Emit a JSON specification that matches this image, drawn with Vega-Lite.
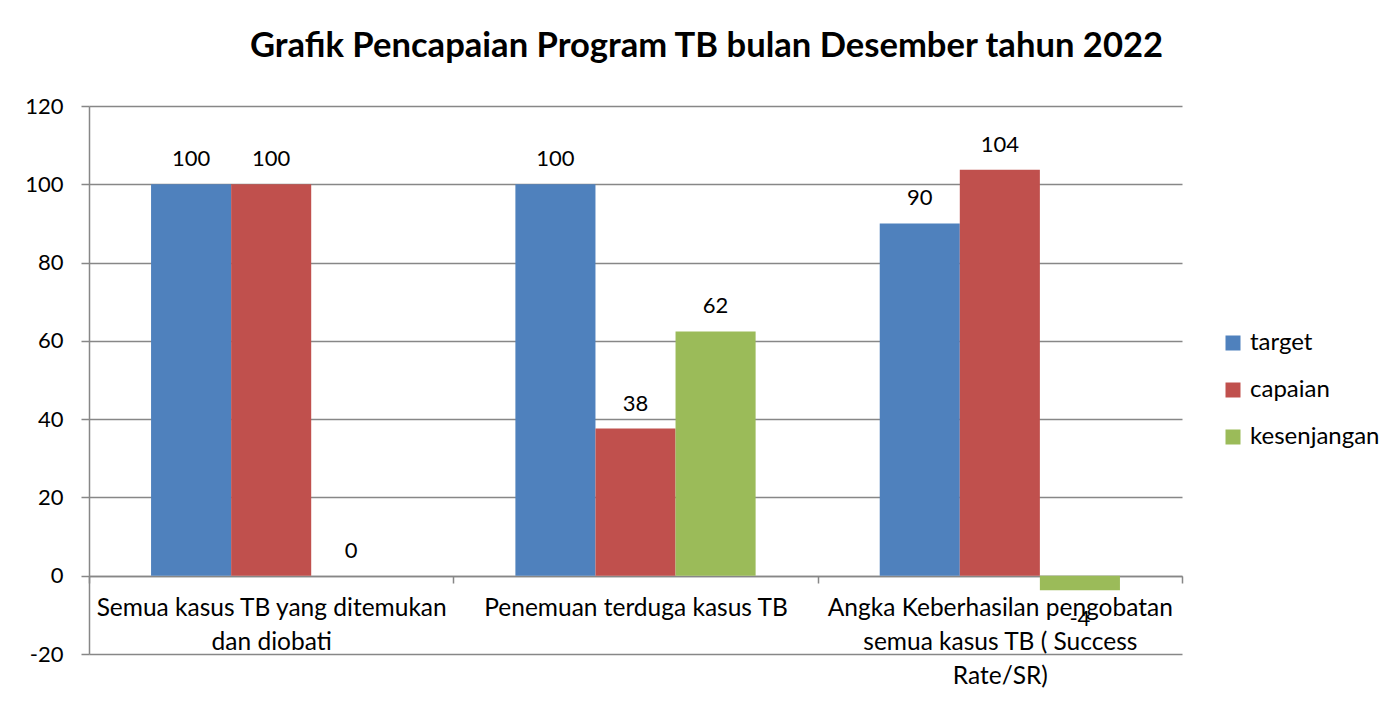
{
  "$schema": "https://vega.github.io/schema/vega-lite/v6.json",
  "autosize": "none",
  "width": 1093,
  "height": 548,
  "padding": {"left": 89, "top": 106, "right": 206, "bottom": 47},
  "background": "white",
  "title": {
    "text": "Grafik Pencapaian Program TB bulan Desember tahun 2022",
    "frame": "group",
    "anchor": "middle",
    "dx": 71,
    "offset": 3,
    "baseline": "alphabetic",
    "font": "Lato",
    "fontSize": 34.6,
    "fontWeight": "bold",
    "color": "black"
  },
  "data": {
    "values": [
      {"kategori": "Semua kasus TB yang ditemukan|dan diobati", "seri": "target", "nilai": 100},
      {"kategori": "Semua kasus TB yang ditemukan|dan diobati", "seri": "capaian", "nilai": 100},
      {"kategori": "Semua kasus TB yang ditemukan|dan diobati", "seri": "kesenjangan", "nilai": 0},
      {"kategori": "Penemuan terduga kasus TB", "seri": "target", "nilai": 100},
      {"kategori": "Penemuan terduga kasus TB", "seri": "capaian", "nilai": 37.6},
      {"kategori": "Penemuan terduga kasus TB", "seri": "kesenjangan", "nilai": 62.4},
      {"kategori": "Angka Keberhasilan pengobatan|semua kasus TB ( Success|Rate/SR)", "seri": "target", "nilai": 90},
      {"kategori": "Angka Keberhasilan pengobatan|semua kasus TB ( Success|Rate/SR)", "seri": "capaian", "nilai": 103.7},
      {"kategori": "Angka Keberhasilan pengobatan|semua kasus TB ( Success|Rate/SR)", "seri": "kesenjangan", "nilai": -3.7}
    ]
  },
  "encoding": {
    "x": {
      "field": "kategori",
      "type": "nominal",
      "sort": null,
      "scale": {"paddingInner": 0, "paddingOuter": 0},
      "axis": {
        "title": null,
        "orient": "bottom",
        "offset": -78,
        "labelAngle": 0,
        "labelExpr": "split(datum.label, '|')",
        "labelFont": "Lato",
        "labelFontSize": 24.5,
        "labelColor": "black",
        "labelLineHeight": 34,
        "labelLimit": 500,
        "labelOverlap": false,
        "labelPadding": 13,
        "labelBaseline": "top",
        "tickBand": "extent",
        "tickSize": 7,
        "tickColor": "#878787",
        "tickWidth": 1.5,
        "domainColor": "#878787",
        "domainWidth": 1.5,
        "grid": false
      }
    },
    "xOffset": {
      "field": "seri",
      "type": "nominal",
      "sort": ["target", "capaian", "kesenjangan"],
      "scale": {"paddingInner": 0, "paddingOuter": 0.775}
    },
    "y": {
      "field": "nilai",
      "type": "quantitative",
      "scale": {"domain": [-20, 120], "nice": false, "zero": false},
      "axis": {
        "title": null,
        "values": [-20, 0, 20, 40, 60, 80, 100, 120],
        "labelFont": "Lato",
        "labelFontSize": 22,
        "labelColor": "black",
        "labelPadding": 18,
        "tickSize": 8,
        "tickColor": "#878787",
        "tickWidth": 1.5,
        "domainColor": "#878787",
        "domainWidth": 1.5,
        "gridColor": "#878787",
        "gridWidth": 1.5
      }
    }
  },
  "layer": [
    {
      "mark": {"type": "bar"},
      "encoding": {
        "color": {
          "field": "seri",
          "type": "nominal",
          "sort": ["target", "capaian", "kesenjangan"],
          "scale": {"domain": ["target", "capaian", "kesenjangan"], "range": ["#4F81BD", "#C0504D", "#9BBB59"]},
          "legend": {
            "title": null,
            "orient": "none",
            "legendX": 1132,
            "legendY": 225,
            "symbolType": "square",
            "symbolSize": 225,
            "symbolStrokeWidth": 0,
            "symbolOpacity": 1,
            "labelFont": "Lato",
            "labelFontSize": 24,
            "labelColor": "black",
            "labelOffset": 5,
            "rowPadding": 23
          }
        }
      }
    },
    {
      "mark": {
        "type": "text",
        "font": "Lato",
        "fontSize": 22,
        "color": "black",
        "baseline": "alphabetic",
        "dy": {"expr": "datum.nilai < 0 ? 36 : -18"}
      },
      "encoding": {
        "text": {"field": "nilai", "type": "quantitative", "format": ".0f"}
      }
    }
  ],
  "config": {
    "view": {"stroke": null},
    "locale": {
      "number": {"decimal": ".", "thousands": ",", "grouping": [3], "currency": ["$", ""], "minus": "-"}
    }
  }
}
